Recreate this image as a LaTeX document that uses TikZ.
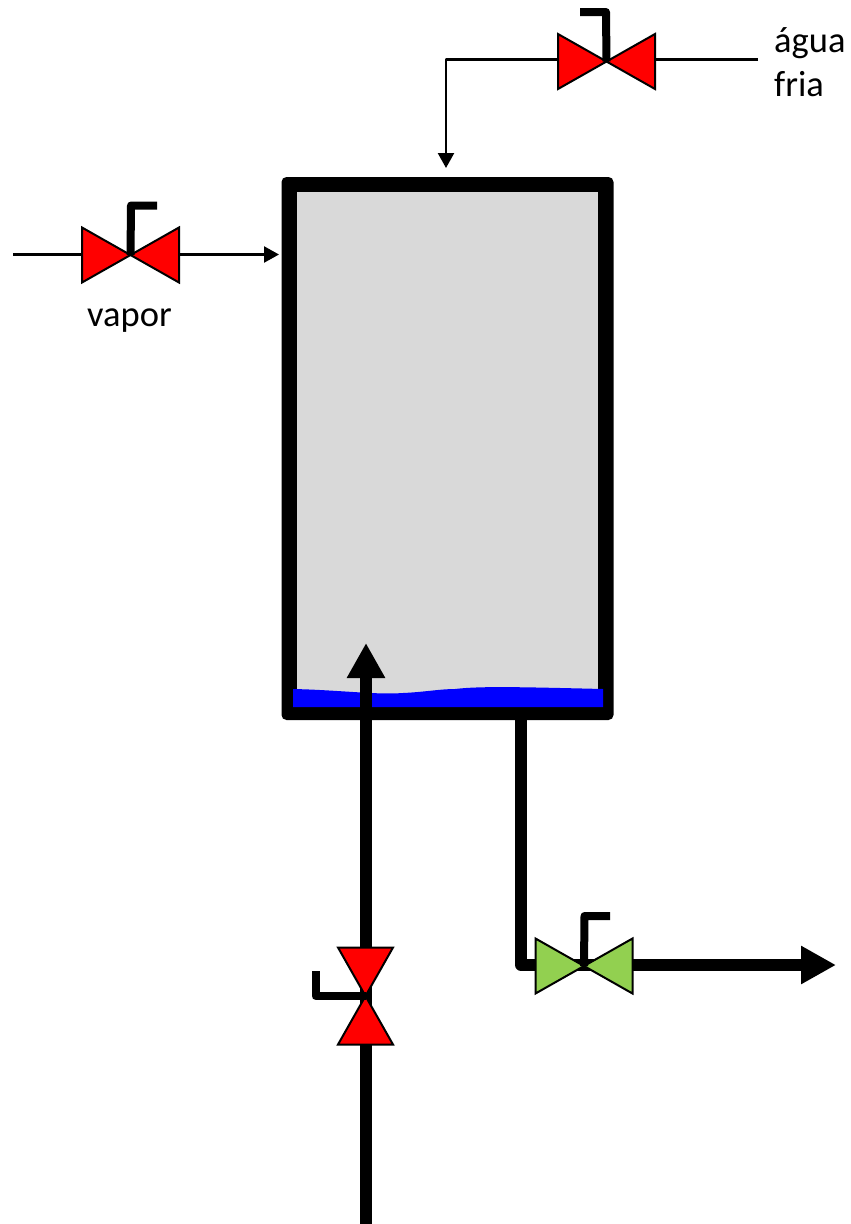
\documentclass[tikz,border=0pt]{standalone}
\usepackage{fontspec}
\setmainfont{Carlito}
\usetikzlibrary{arrows.meta}
\definecolor{tankgray}{HTML}{D9D9D9}
\definecolor{valvegreen}{HTML}{92D050}
\tikzset{
  x=1pt,y=-1pt,
  tankwall/.style={draw=none,fill=black,rounded corners=5pt,inner sep=0pt,minimum width=332pt,minimum height=543pt},
  tankinside/.style={draw=none,fill=tankgray,inner sep=0pt,minimum width=301pt,minimum height=513pt},
  label text/.style={inner sep=0pt,text=black,font=\fontsize{36.5pt}{43.5pt}\selectfont,align=left},
  thinpipe/.style={draw=black,line width=2.4pt,line join=round},
  thickpipe/.style={draw=black,line width=12pt,line join=round},
  thinarrow/.style={thinpipe,-{Triangle[length=15pt,width=16pt]}},
  thickarrow/.style={thickpipe,-{Triangle[length=35pt,width=36pt]}},
  handle/.style={draw=black,line width=8pt,line join=round},
  valve half/.style={draw=black,line width=2pt,line join=miter},
  pics/hvalve/.style={code={
    \path[valve half,fill=#1] (-48.5,-27.5) -- (0,0) -- (-48.5,27.5) -- cycle;
    \path[valve half,fill=#1] (48.5,-27.5) -- (0,0) -- (48.5,27.5) -- cycle;
  }},
  pics/vvalve/.style={code={
    \path[valve half,fill=#1] (-27.5,-48.5) -- (0,0) -- (27.5,-48.5) -- cycle;
    \path[valve half,fill=#1] (-27.5,48.5) -- (0,0) -- (27.5,48.5) -- cycle;
  }},
}
\begin{document}
\begin{tikzpicture}
\useasboundingbox (0,0) rectangle (851,1224);
% tank
\node[tankwall] (tank) at (447.5,448.5) {};
\node[tankinside] (inside) at (447.5,448.5) {};
\fill[blue] (293,707) -- (293,689) .. controls (340,690) and (375,695) .. (403,693)
  .. controls (425,692) and (440,689) .. (455,689)
  .. controls (480,686) and (520,687) .. (603,689) -- (603,707) -- cycle;
% named ends and valve centres
\coordinate (vaporin) at (13,254.5);
\coordinate (vaporvalve) at (130.5,255);
\coordinate (vaporend) at (279,254.5);
\coordinate (aguain) at (758,59.5);
\coordinate (aguavalve) at (606.5,61.5);
\coordinate (aguacorner) at (446,59.5);
\coordinate (aguaend) at (446,168);
\coordinate (feedin) at (366,1224);
\coordinate (feedvalve) at (365.5,996);
\coordinate (feedend) at (366,643);
\coordinate (drainstart) at (521,708);
\coordinate (draincorner) at (521,965);
\coordinate (drainvalve) at (584,966);
\coordinate (drainend) at (836,965);
% pipes
\draw[thinarrow] (vaporin) -- (vaporend);
\draw[thinarrow] (aguain) -- (aguacorner) -- (aguaend);
\draw[thickarrow] (feedin) -- (feedend);
\draw[thickarrow] (drainstart) -- (draincorner) -- (drainend);
% valves
\pic at (vaporvalve) {hvalve=red};
\pic at (aguavalve) {hvalve=red};
\pic at (feedvalve) {vvalve=red};
\pic at (drainvalve) {hvalve=valvegreen};
% handles
\coordinate (vaporh1) at (131,205.5);
\coordinate (vaporh2) at (157,205.5);
\coordinate (aguah1) at (606,12);
\coordinate (aguah2) at (580,12);
\coordinate (feedh1) at (315.5,996);
\coordinate (feedh2) at (315.5,971);
\coordinate (drainh1) at (584.5,916);
\coordinate (drainh2) at (610,916);
\draw[handle] (vaporvalve) -- (vaporh1) -- (vaporh2);
\draw[handle] (aguavalve) -- (aguah1) -- (aguah2);
\draw[handle] (feedvalve) -- (feedh1) -- (feedh2);
\draw[handle] (drainvalve) -- (drainh1) -- (drainh2);
% labels
\node[label text,anchor=base west] (vaporlabel) at (87,326) {vapor};
\node[label text,anchor=base west] (agualabel) at (774,96) {água\\fria};
\end{tikzpicture}
\end{document}
